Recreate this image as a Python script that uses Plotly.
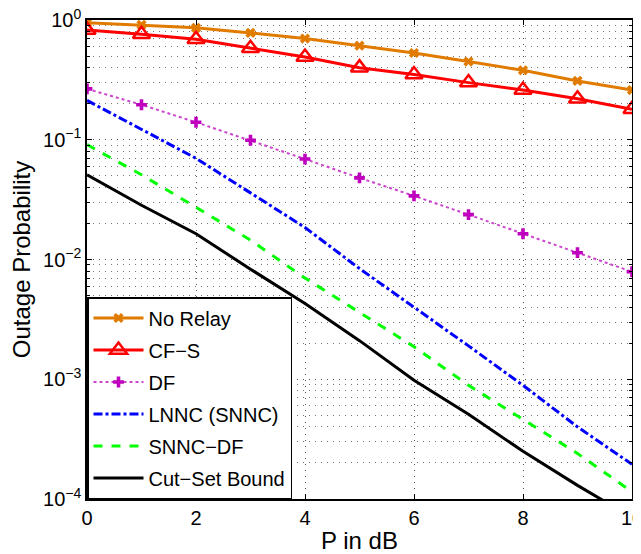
import plotly.graph_objects as go

P_dB = [0, 1, 2, 3, 4, 5, 6, 7, 8, 9, 10]

no_relay = [0.95, 0.91, 0.86, 0.78, 0.70, 0.61, 0.53, 0.45, 0.38, 0.31, 0.26]
cf_s = [0.825, 0.76, 0.69, 0.58, 0.49, 0.40, 0.35, 0.30, 0.26, 0.22, 0.18]
df = [0.266, 0.196, 0.14, 0.099, 0.069, 0.048, 0.034, 0.0237, 0.0164, 0.0114, 0.0079]
lnnc = [0.213, 0.123, 0.070, 0.036, 0.0185, 0.0084, 0.0040, 0.0019, 8.9e-4, 4.0e-4, 1.95e-4]
snnc_df = [0.091, 0.051, 0.0273, 0.0145, 0.0070, 0.0036, 0.00187, 8.9e-4, 4.6e-4, 2.4e-4, 1.15e-4]
cut_set = [0.051, 0.0284, 0.0164, 0.0083, 0.0043, 0.0021, 9.8e-4, 5.1e-4, 2.5e-4, 1.3e-4, 7.0e-5]

y_tickvals = [1e-4, 1e-3, 1e-2, 1e-1, 1]
y_ticktext = ["10<sup>\u22124</sup>", "10<sup>\u22123</sup>", "10<sup>\u22122</sup>",
              "10<sup>\u22121</sup>", "10<sup>0</sup>"]
y_minor = [m * 10 ** e for e in range(-4, 0) for m in range(2, 10)]
x_tickvals = [0, 2, 4, 6, 8, 10]

FONT = "Liberation Sans, Arial, Helvetica, sans-serif"
GRID_DASH = "1px,5px"

fig = go.Figure()

fig.add_trace(go.Scatter(
    x=P_dB, y=no_relay, name="No Relay", mode="lines+markers", legendgroup="g1",
    line=dict(color="#E07B00", width=3),
    marker=dict(symbol="x", size=9, color="#E07B00")))
fig.add_trace(go.Scatter(
    x=P_dB, y=cf_s, name="CF\u2212S", mode="lines+markers", legendgroup="g2",
    line=dict(color="#FF0000", width=3),
    marker=dict(symbol="triangle-up-open", size=15, color="#FF0000",
                line=dict(width=2.5, color="#FF0000"))))
fig.add_trace(go.Scatter(
    x=P_dB, y=df, name="DF", mode="lines+markers", legendgroup="g3",
    line=dict(color="#CC44CC", width=2, dash="dot"),
    marker=dict(symbol="cross", size=9, color="#BF00BF")))
fig.add_trace(go.Scatter(
    x=P_dB, y=lnnc, name="LNNC (SNNC)", mode="lines", legendgroup="g4",
    line=dict(color="#0000FF", width=3, dash="dashdot")))
fig.add_trace(go.Scatter(
    x=P_dB, y=snnc_df, name="SNNC\u2212DF", mode="lines", legendgroup="g5",
    line=dict(color="#00FF00", width=3, dash="dash")))
fig.add_trace(go.Scatter(
    x=P_dB, y=cut_set, name="Cut\u2212Set Bound", mode="lines", legendgroup="g6",
    line=dict(color="#000000", width=3)))

fig.update_layout(
    width=633, height=546,
    margin=dict(l=79, r=9, t=12, b=55),
    paper_bgcolor="white", plot_bgcolor="white",
    font=dict(family=FONT, size=20, color="black"),
    showlegend=True,
    legend=dict(
        x=0, y=0, xanchor="left", yanchor="bottom",
        bgcolor="white", bordercolor="black", borderwidth=1.5,
        font=dict(family=FONT, size=20, color="black"),
        itemwidth=50, tracegroupgap=3,
    ),
)

fig.update_xaxes(
    range=[0, 10], tickvals=x_tickvals, automargin=False,
    ticklabeloverflow="allow",
    ticks="inside", ticklen=5, tickcolor="black",
    showline=True, linecolor="black", linewidth=1.5, mirror="allticks",
    showgrid=True, gridcolor="#555555", griddash=GRID_DASH, gridwidth=1.2,
    zeroline=False,
    title=dict(text="P in dB", font=dict(family=FONT, size=24), standoff=8),
    tickfont=dict(family=FONT, size=20),
)

fig.update_yaxes(
    type="log", range=[-4, 0], automargin=False,
    ticklabeloverflow="allow",
    tickvals=y_tickvals, ticktext=y_ticktext,
    ticks="inside", ticklen=5, tickcolor="black",
    showline=True, linecolor="black", linewidth=1.5, mirror="allticks",
    showgrid=True, gridcolor="#555555", griddash=GRID_DASH, gridwidth=1.2,
    zeroline=False,
    minor=dict(tickmode="array", tickvals=y_minor, ticks="inside", ticklen=3,
               tickcolor="black", showgrid=True, gridcolor="#777777",
               griddash=GRID_DASH, gridwidth=1.2),
    title=dict(text="Outage Probability", font=dict(family=FONT, size=24), standoff=6),
    tickfont=dict(family=FONT, size=20),
)

fig.write_html("out.html")
